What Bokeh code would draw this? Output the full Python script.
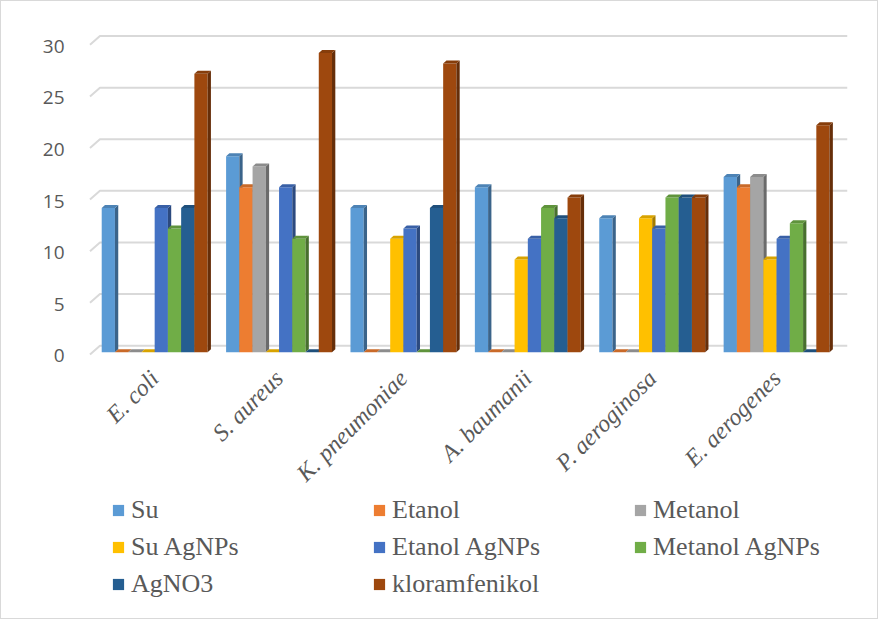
import numpy as np
from bokeh.plotting import figure
from bokeh.models import Range1d, LinearAxis, FixedTicker, Legend, LegendItem
from bokeh.core.properties import value
from bokeh.embed import file_html
from bokeh.resources import INLINE

# ---------------- data ----------------
categories = ["E. coli", "S. aureus", "K. pneumoniae", "A. baumanii", "P. aeroginosa", "E. aerogenes"]
series_names = ["Su", "Etanol", "Metanol", "Su AgNPs", "Etanol AgNPs", "Metanol AgNPs", "AgNO3", "kloramfenikol"]
su = [14, 19, 14, 16, 13, 17]
etanol = [0, 16, 0, 0, 0, 16]
metanol = [0, 18, 0, 0, 0, 17]
su_agnps = [0, 0, 11, 9, 13, 9]
etanol_agnps = [14, 16, 12, 11, 12, 11]
metanol_agnps = [12, 11, 0, 14, 15, 12.5]
agno3 = [14, 0, 14, 13, 15, 0]
kloramfenikol = [27, 29, 28, 15, 15, 22]
y_ticks = [0, 5, 10, 15, 20, 25, 30]

series_values = [su, etanol, metanol, su_agnps, etanol_agnps, metanol_agnps, agno3, kloramfenikol]
colors = ["#5B9BD5", "#ED7D31", "#A5A5A5", "#FFC000", "#4472C4", "#70AD47", "#255E91", "#9E480E"]

SERIF = "'Liberation Serif', 'Times New Roman', serif"


def shade(hex_color, f):
    h = hex_color.lstrip("#")
    r, g, b = (int(h[i:i + 2], 16) for i in (0, 2, 4))
    return "#%02x%02x%02x" % (int(r * f), int(g * f), int(b * f))


# ---------------- layout constants ----------------
W, H = 878, 619
MB_L, MB_R, MB_T, MB_B = 86, 32, 33, 8
FRAME_W = W - MB_L - MB_R
FRAME_H = H - MB_T - MB_B
X0, X1 = -0.54, 5.57
PX_Y = 10.32                   # pixels per unit on the value axis
Y1 = 30.8
Y0 = Y1 - FRAME_H / PX_Y       # frame extends down to hold labels and legend
px_x = FRAME_W / (X1 - X0)
SLOT = 13.24 / px_x            # width of one bar in the group
DX = 3.3 / px_x                # 3D depth (x)
DY = 3.0 / PX_Y                # 3D depth (y)
LABEL_DROP = 22 / PX_Y         # category labels below the floor

p = figure(width=W, height=H, output_backend="svg", toolbar_location=None,
           x_range=Range1d(X0, X1), y_range=Range1d(Y0, Y1),
           x_axis_location=None, y_axis_location=None,
           min_border_left=MB_L, min_border_right=MB_R, min_border_top=MB_T, min_border_bottom=MB_B,
           outline_line_color=None, background_fill_color="white", border_fill_color="white")
p.styles = {"border": "1px solid #d9d9d9"}
p.grid.visible = False

# y axis (labels slightly below the bar plane, as in the 3D chart)
p.extra_y_ranges = {"lbl": Range1d(Y0 + 0.35, Y1 + 0.35)}
yaxis = LinearAxis(y_range_name="lbl", ticker=FixedTicker(ticks=y_ticks),
                   axis_line_color=None, major_tick_line_color=None, minor_tick_line_color=None,
                   major_label_standoff=17, major_label_text_font="Open Sans",
                   major_label_text_font_size="19px", major_label_text_color="#595959")
p.add_layout(yaxis, "left")

# gridlines on the back wall with the floor diagonal
gx = [[X0 + 0.02, X0 + 0.10, X1] for t in y_ticks]
gy = [[t - 0.2, t + 0.65, t + 0.65] for t in y_ticks]
p.multi_line(gx, gy, line_color="#d9d9d9", line_width=2)

# bars
items = []
n = len(series_names)
for j, (name, vals, col) in enumerate(zip(series_names, series_values, colors)):
    left = [i - n / 2 * SLOT + j * SLOT for i in range(len(categories))]
    right = [l + SLOT for l in left]
    front = p.quad(left=left, right=right, bottom=0, top=vals, fill_color=col, line_color=None)
    side_xs = [[r, r + DX, r + DX, r] for r in right]
    side_ys = [[0, DY, v + DY, v] for v in vals]
    p.patches(side_xs, side_ys, fill_color=shade(col, 0.65), line_color=None)
    top_xs = [[l, l + DX, r + DX, r] for l, r in zip(left, right)]
    top_ys = [[v, v + DY, v + DY, v] for v in vals]
    p.patches(top_xs, top_ys, fill_color=shade(col, 0.85), line_color=None)
    items.append(LegendItem(label=name, renderers=[front]))

# category labels (rotated)
p.text(x=list(range(len(categories))), y=[-LABEL_DROP] * len(categories), text=categories,
       angle=np.pi / 4, text_align="right", text_baseline="middle",
       text_font=value(SERIF), text_font_style="italic",
       text_font_size="24px", text_color="#595959")

legend = Legend(items=items, ncols=3, orientation="horizontal", location=(24, 10),
                label_text_font=SERIF, label_text_font_size="26px",
                label_text_color="#595959", glyph_width=14, glyph_height=14,
                label_standoff=6, label_width=241, label_height=37, spacing=0,
                padding=0, margin=0, border_line_color=None, background_fill_alpha=0)
p.add_layout(legend)

open("out.html", "w").write(file_html(p, INLINE))
